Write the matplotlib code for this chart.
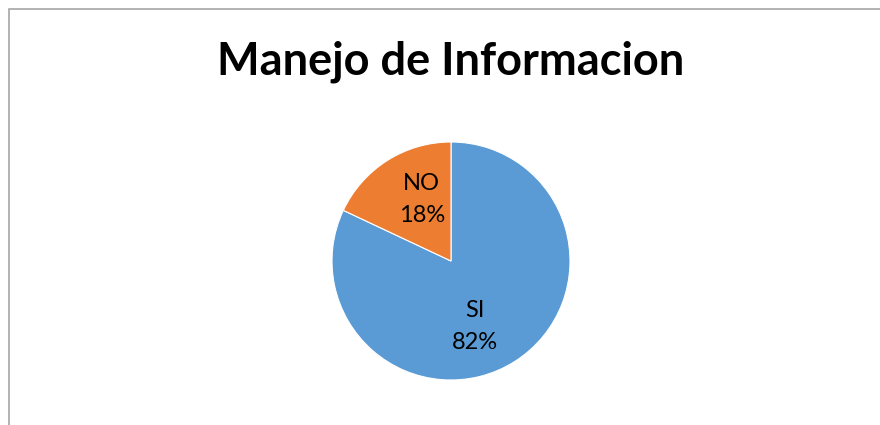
import matplotlib
matplotlib.use("Agg")
import matplotlib.pyplot as plt
from matplotlib.patches import Rectangle

# datos del grafico
categorias = ["SI", "NO"]
valores = [82, 18]
colores = ["#5B9BD5", "#ED7D31"]
titulo = "Manejo de Informacion"

plt.rcParams["font.family"] = ["Lato", "DejaVu Sans"]

fig = plt.figure(figsize=(8.8, 4.25), dpi=100)

# borde del area del grafico (solo izquierda y arriba visibles)
fig.add_artist(Rectangle((8.5 / 880, -0.5), 2, 1.5 - 8.5 / 425,
                         transform=fig.transFigure, fill=False,
                         edgecolor="#a6a6a6", linewidth=1.2))

fig.text(451 / 880, 1 - 62 / 425, titulo, ha="center", va="center",
         fontsize=32.5, fontweight="bold")

r = 119
cx, cy = 451, 261
ax = fig.add_axes([(cx - r) / 880, (425 - cy - r) / 425, 2 * r / 880, 2 * r / 425])

etiquetas = [f"{c}\n{v}%" for c, v in zip(categorias, valores)]
wedges, textos = ax.pie(valores, labels=etiquetas, colors=colores,
                        startangle=90, counterclock=False,
                        labeldistance=0.58,
                        wedgeprops=dict(edgecolor="white", linewidth=0.8),
                        textprops=dict(fontsize=17, linespacing=1.65))
# posiciones tipo "mejor ajuste" de Excel
pos_etiquetas = [(0.20, -0.55), (-0.245, 0.515)]
for t, p in zip(textos, pos_etiquetas):
    t.set_position(p)
    t.set_horizontalalignment("center")
    t.set_verticalalignment("center")
ax.set_xlim(-1, 1)
ax.set_ylim(-1, 1)

fig.savefig("out.png", dpi=100)
